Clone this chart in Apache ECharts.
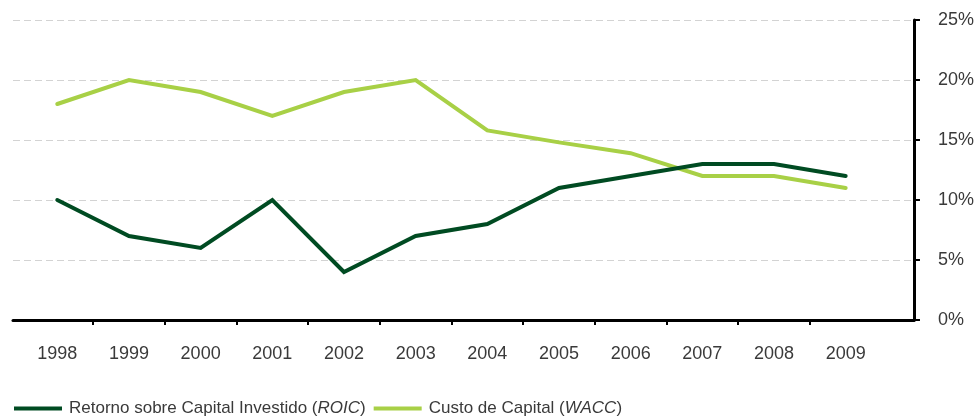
<!DOCTYPE html>
<html>
<head>
<meta charset="utf-8">
<script src="https://cdn.jsdelivr.net/npm/echarts@6/dist/echarts.min.js"></script>
<style>
html,body{margin:0;padding:0;background:#fff;}
#chart{width:977px;height:419px;}
</style>
</head>
<body>
<div id="chart"></div>
<script>
const years = ['1998','1999','2000','2001','2002','2003','2004','2005','2006','2007','2008','2009'];
const roic = [10, 7, 6, 10, 4, 7, 8, 11, 12, 13, 13, 12];
const wacc = [18, 20, 19, 17, 19, 20, 15.8, 14.8, 13.9, 12, 12, 11];
const yTicks = [0, 5, 10, 15, 20, 25];
const seriesNames = ['Retorno sobre Capital Investido (ROIC)', 'Custo de Capital (WACC)'];
const colors = ['#004b22', '#a8d046'];

const FONT = '"Liberation Sans", Arial, sans-serif';
const chart = echarts.init(document.getElementById('chart'), null, {renderer: 'canvas'});

const labelVals = years.map((y, i) => i);
const tickVals = years.slice(1).map((y, i) => i + 0.5);

chart.setOption({
  animation: false,
  backgroundColor: '#ffffff',
  grid: {left: 13, right: 63, top: 20, bottom: 99, containLabel: false},
  legend: {
    left: 14, top: 400, padding: 0,
    itemWidth: 48, itemHeight: 4, itemGap: 8,
    icon: 'rect',
    data: seriesNames,
    formatter: function (name) {
      const m = name.match(/^(.*)\((.*)\)$/);
      return m ? m[1] + '({it|' + m[2] + '})' : name;
    },
    textStyle: {
      fontFamily: FONT, fontSize: 17, color: '#3a3a3a',
      padding: [0, 0, 0, 2],
      rich: {it: {fontFamily: FONT, fontSize: 17, fontStyle: 'italic', color: '#3a3a3a'}}
    }
  },
  xAxis: {
    type: 'value',
    min: -0.618, max: 11.953,
    axisLine: {show: true, onZero: false, lineStyle: {color: '#000', width: 3}},
    axisTick: {show: true, customValues: tickVals, length: 5, inside: false, lineStyle: {color: '#000', width: 2}},
    axisLabel: {
      customValues: labelVals,
      formatter: function (v) { return years[Math.round(v)]; },
      margin: 25, fontFamily: FONT, fontSize: 18, color: '#3a3a3a'
    },
    splitLine: {show: false}
  },
  yAxis: {
    type: 'value', position: 'right',
    min: yTicks[0], max: yTicks[yTicks.length - 1], interval: 5,
    axisLine: {show: true, onZero: false, lineStyle: {color: '#000', width: 3}},
    axisTick: {show: true, length: 6, lineStyle: {color: '#000', width: 2}},
    axisLabel: {formatter: '{value}%', margin: 24, fontFamily: FONT, fontSize: 18, color: '#3a3a3a'},
    splitLine: {show: true, lineStyle: {color: '#d3d3d3', width: 1, type: [7, 4]}}
  },
  series: [
    {
      name: seriesNames[0], type: 'line', symbol: 'none',
      data: roic.map((v, i) => [i, v]),
      lineStyle: {color: colors[0], width: 4, cap: 'round', join: 'miter'},
      itemStyle: {color: colors[0]}, z: 3
    },
    {
      name: seriesNames[1], type: 'line', symbol: 'none',
      data: wacc.map((v, i) => [i, v]),
      lineStyle: {color: colors[1], width: 4, cap: 'round', join: 'miter'},
      itemStyle: {color: colors[1]}, z: 2
    }
  ]
});
</script>
</body>
</html>
